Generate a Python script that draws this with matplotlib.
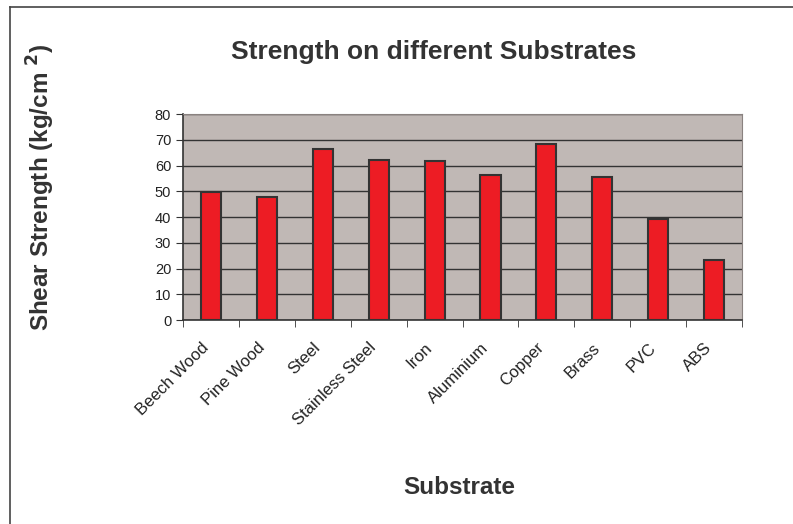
import numpy as np
import matplotlib.pyplot as plt
import matplotlib.transforms as mtransforms
from matplotlib.lines import Line2D

plt.rcParams['font.family'] = ['Liberation Sans', 'DejaVu Sans']

substrates = ["Beech Wood", "Pine Wood", "Steel", "Stainless Steel", "Iron",
              "Aluminium", "Copper", "Brass", "PVC", "ABS"]
strength = [49.8, 47.7, 66.3, 62.3, 61.6, 56.2, 68.5, 55.5, 39.2, 23.2]
yticks = [0, 10, 20, 30, 40, 50, 60, 70, 80]

fig = plt.figure(figsize=(7.93, 5.24), dpi=100)
ax = fig.add_axes([0.2308, 0.3893, 0.7049, 0.3931])

x = np.arange(len(substrates))
ax.set_facecolor("#c0b8b5")
ax.bar(x, strength, width=0.36, color="#ed1c24", edgecolor="#333333", linewidth=1.5, zorder=3)

ax.set_ylim(0, 80)
ax.set_xlim(-0.5, len(substrates) - 0.5)
ax.set_yticks(yticks)
ax.yaxis.grid(True, color="#333333", linewidth=1, zorder=1)
ax.set_axisbelow(True)

# category labels, slightly left of the bar centre like the original
ax.set_xticks(x)
ax.set_xticklabels([])
ax.tick_params(axis="x", which="major", length=0)
lbl_trans = mtransforms.offset_copy(ax.get_xaxis_transform(), fig=fig, x=-10, y=-20, units="dots")
for xi, name in zip(x, substrates):
    ax.text(xi, 0, name, transform=lbl_trans, rotation=45, ha="right", va="top",
            rotation_mode="anchor", fontsize=12, color="#222222")

ax.set_xticks(np.arange(-0.5, len(substrates)), minor=True)
ax.tick_params(axis="x", which="minor", length=5, color="#333333")
ax.tick_params(axis="y", length=5, color="#333333", labelsize=10.5, labelcolor="#222222")

for s in ["top", "right"]:
    ax.spines[s].set_color("#8a8280")
for s in ["left", "bottom"]:
    ax.spines[s].set_color("#333333")
    ax.spines[s].set_linewidth(1.2)

fig.text(0.547, 0.90, "Strength on different Substrates", ha="center", va="center",
         fontsize=19, fontweight="bold", color="#333333")
fig.text(0.051, 0.643, r"Shear Strength (kg/cm $^{\mathbf{2}}$)", rotation=90, ha="center", va="center",
         fontsize=17.5, fontweight="bold", color="#333333")
fig.text(0.579, 0.069, "Substrate", ha="center", va="center",
         fontsize=17.5, fontweight="bold", color="#333333")

# chart frame (only top and left visible)
fig.add_artist(Line2D([0.0126, 0.0126], [0, 0.987], color="#444444", linewidth=1.2))
fig.add_artist(Line2D([0.0126, 1.0], [0.987, 0.987], color="#444444", linewidth=1.2))

fig.savefig("out.png", dpi=100)
